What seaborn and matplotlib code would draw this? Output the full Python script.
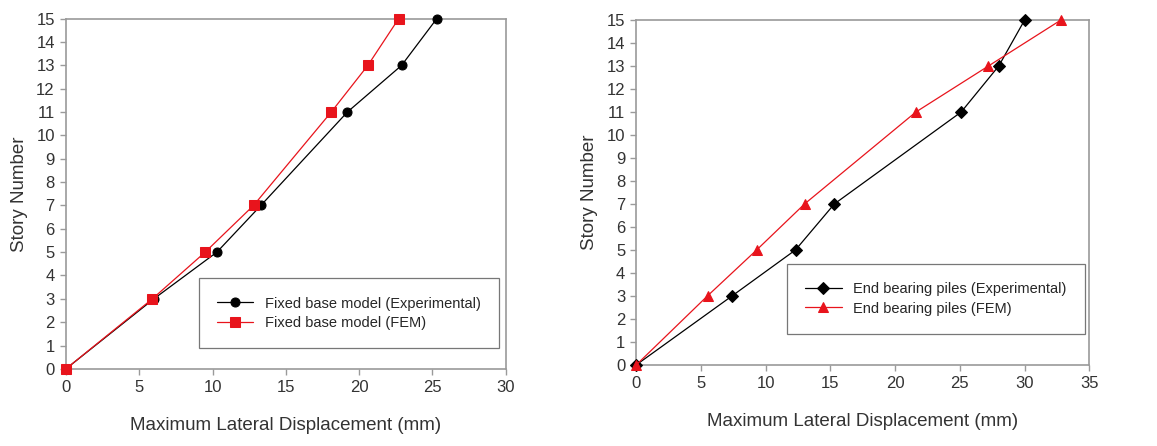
import matplotlib
matplotlib.use("Agg")
import matplotlib.pyplot as plt
import seaborn as sns
import pandas as pd

stories = [0, 3, 5, 7, 11, 13, 15]
fixed_exp = [0, 6.0, 10.3, 13.3, 19.2, 22.9, 25.3]
fixed_fem = [0, 5.9, 9.5, 12.8, 18.1, 20.6, 22.7]
pile_exp = [0, 7.4, 12.3, 15.3, 25.1, 28.0, 30.0]
pile_fem = [0, 5.5, 9.3, 13.0, 21.6, 27.2, 32.8]

sns.set_theme(style="ticks")
plt.rcParams['font.family'] = ['Liberation Sans', 'DejaVu Sans']

fig = plt.figure(figsize=(11.57, 4.46), dpi=100)
ax1 = fig.add_axes([0.057, 0.173, 0.380, 0.785])
ax2 = fig.add_axes([0.550, 0.182, 0.3915, 0.773])

def style(ax, xmax):
    ax.set_xlim(0, xmax)
    ax.set_ylim(0, 15)
    ax.set_yticks(range(0, 16))
    ax.set_xticks(range(0, xmax + 1, 5))
    for s in ax.spines.values():
        s.set_color('#9a9a9a')
        s.set_linewidth(1.2)
    ax.tick_params(axis='both', labelsize=12, length=4, width=1, direction='out', pad=4,
                   colors='#9a9a9a', labelcolor='#333333')
    ax.set_xlabel('Maximum Lateral Displacement (mm)', fontsize=13.5, color='#333333', labelpad=16)
    ax.set_ylabel('Story Number', fontsize=13.5, color='#333333', labelpad=6)

sns.lineplot(x=fixed_exp, y=stories, ax=ax1, color='black', marker='o', markersize=6.5,
             linewidth=0.9, markeredgecolor='black', label='Fixed base model (Experimental)',
             sort=False, estimator=None, clip_on=False, zorder=3)
sns.lineplot(x=fixed_fem, y=stories, ax=ax1, color='#e8141c', marker='s', markersize=6.5,
             linewidth=0.9, markeredgecolor='#e8141c', label='Fixed base model (FEM)',
             sort=False, estimator=None, clip_on=False, zorder=4)
style(ax1, 30)
leg1 = ax1.legend(loc='lower right', bbox_to_anchor=(0.985, 0.06), fontsize=10.5, frameon=True,
                  fancybox=False, edgecolor='#555555', borderpad=1.25, handlelength=2.5,
                  labelspacing=0.35, borderaxespad=0, handletextpad=0.8)
leg1.get_frame().set_linewidth(0.9)

sns.lineplot(x=pile_exp, y=stories, ax=ax2, color='black', marker='D', markersize=6,
             linewidth=0.9, markeredgecolor='black', label='End bearing piles (Experimental)',
             sort=False, estimator=None, clip_on=False, zorder=3)
sns.lineplot(x=pile_fem, y=stories, ax=ax2, color='#e8141c', marker='^', markersize=6.5,
             linewidth=0.9, markeredgecolor='#e8141c', label='End bearing piles (FEM)',
             sort=False, estimator=None, clip_on=False, zorder=4)
style(ax2, 35)
leg2 = ax2.legend(loc='lower right', bbox_to_anchor=(0.99, 0.09), fontsize=10.5, frameon=True,
                  fancybox=False, edgecolor='#555555', borderpad=1.25, handlelength=2.5,
                  labelspacing=0.35, borderaxespad=0, handletextpad=0.8)
leg2.get_frame().set_linewidth(0.9)

fig.savefig('out.png', dpi=100)
